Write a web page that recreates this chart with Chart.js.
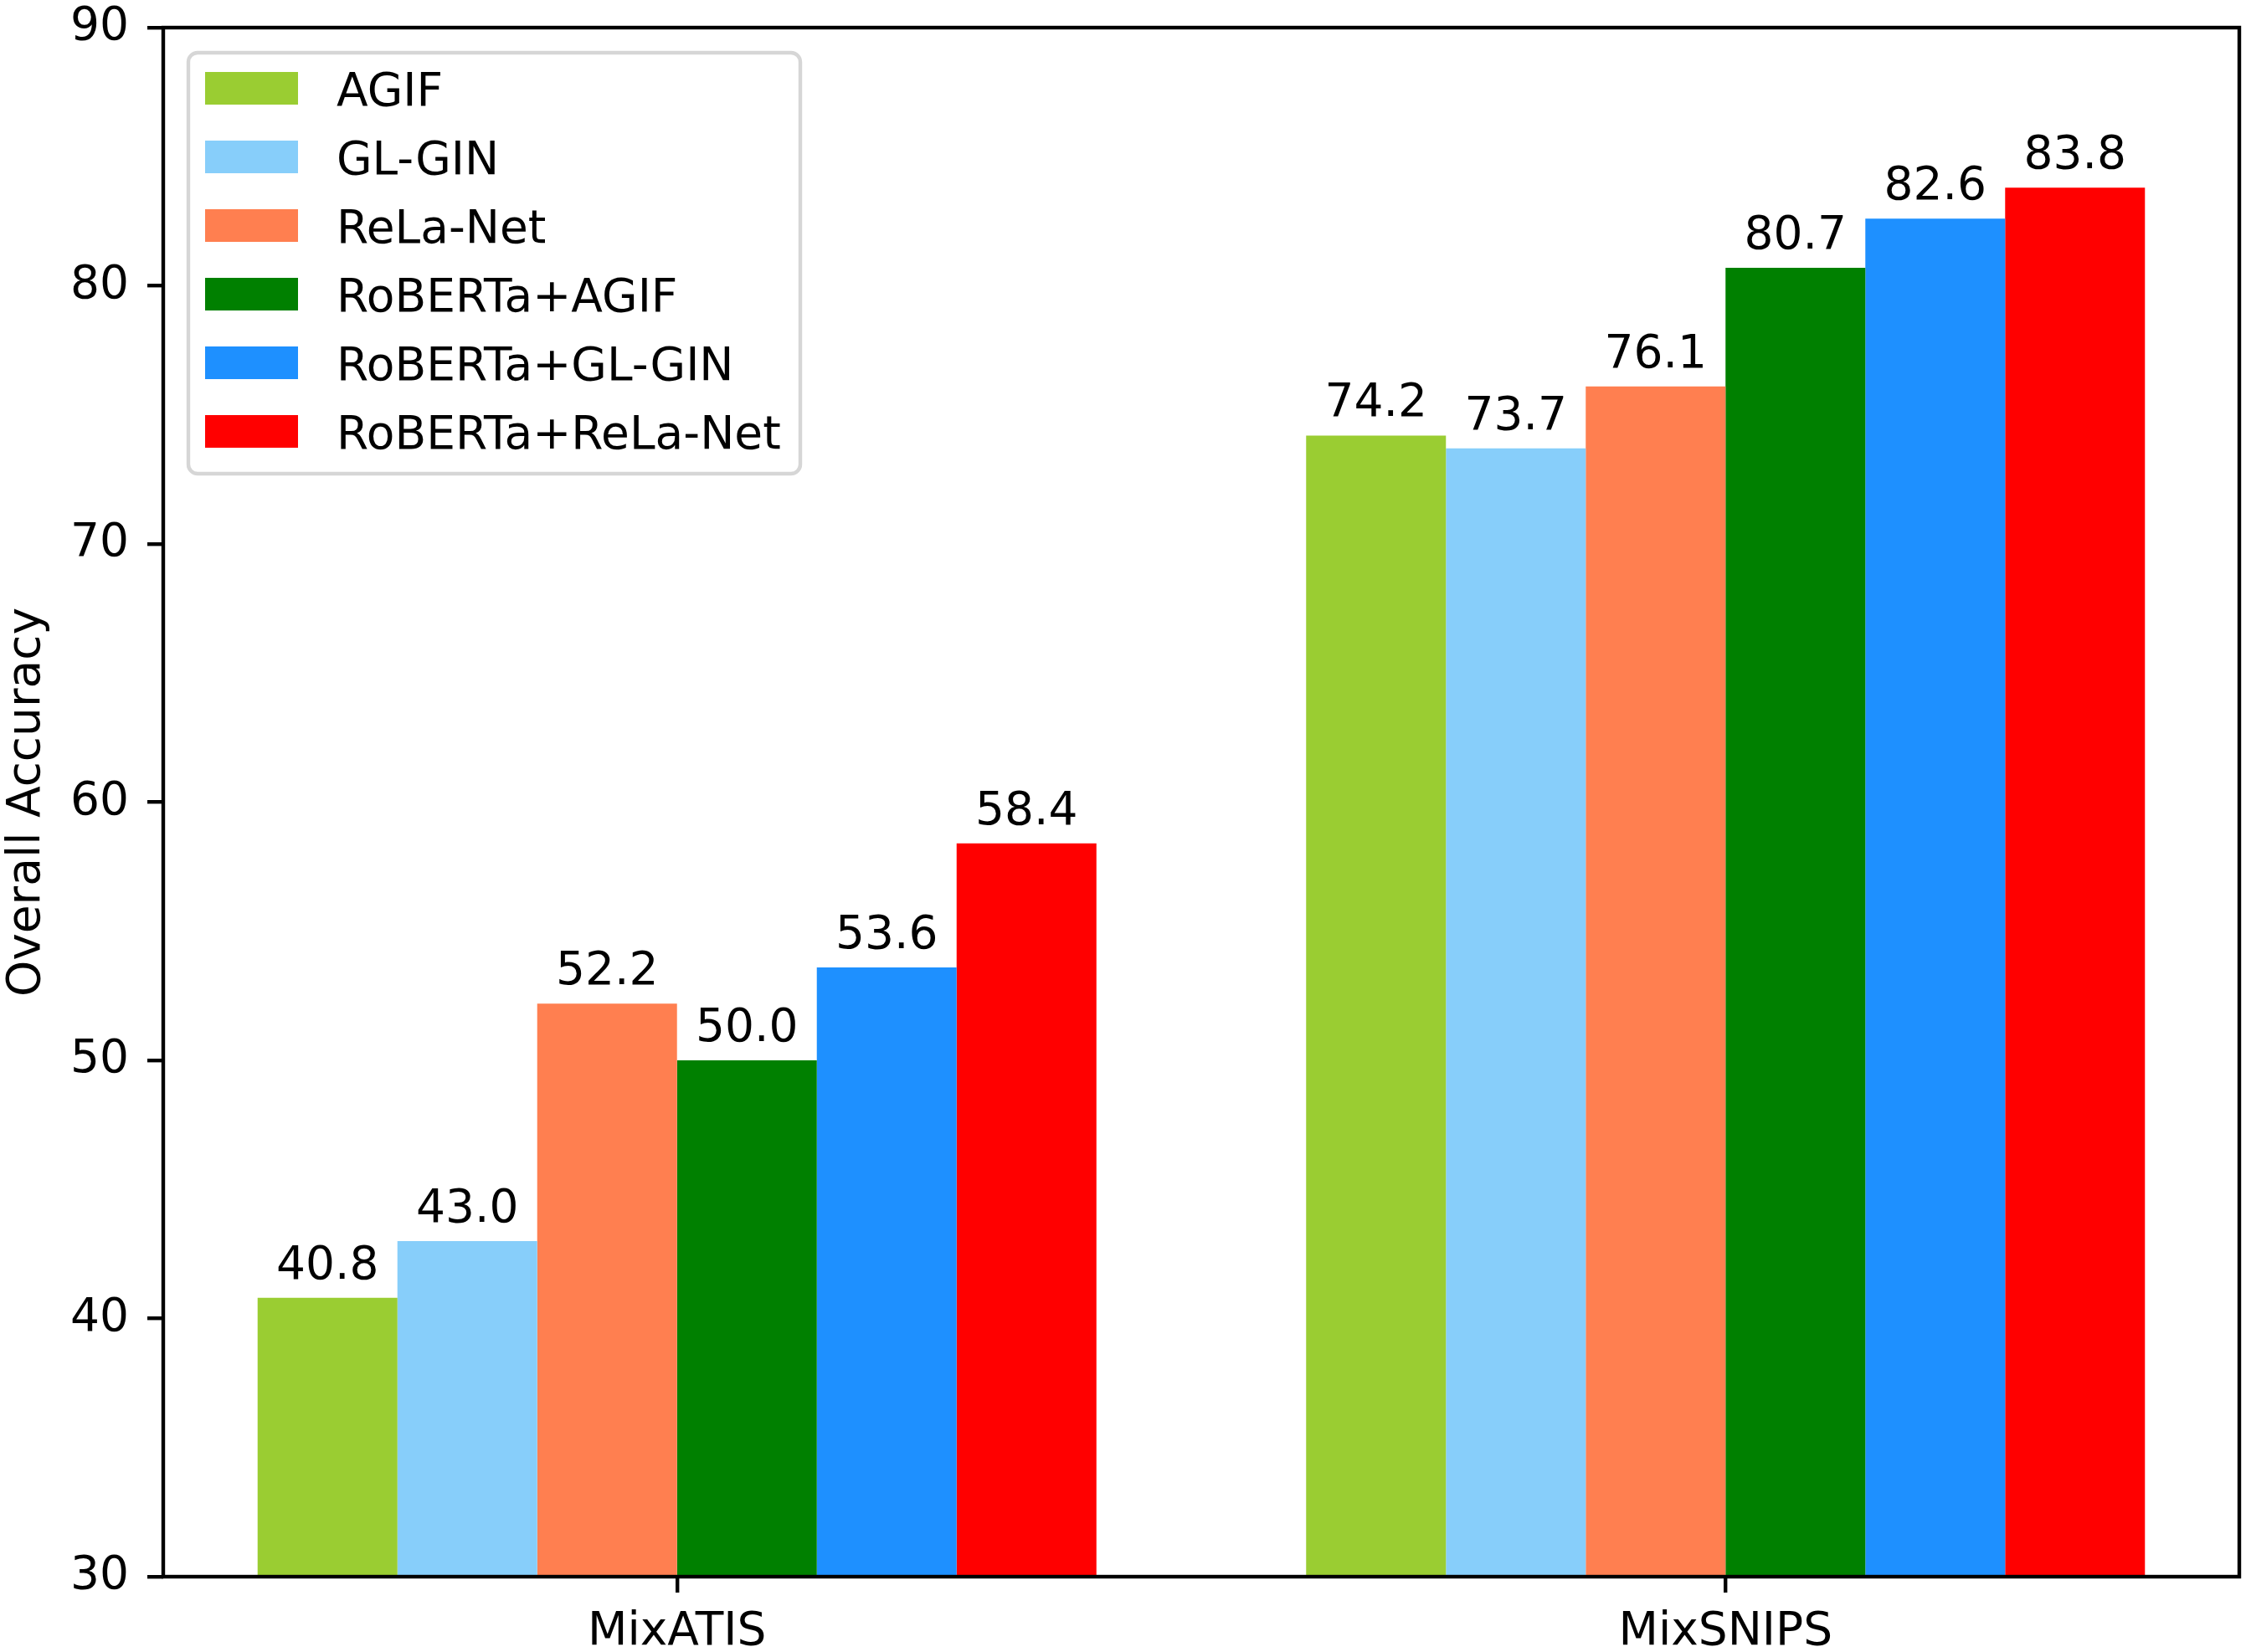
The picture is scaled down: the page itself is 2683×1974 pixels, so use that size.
<!DOCTYPE html>
<html>
<head>
<meta charset="utf-8">
<title>Overall Accuracy</title>
<script src="https://cdn.jsdelivr.net/npm/chart.js@4.4.1/dist/chart.umd.min.js"></script>
<style>
  html, body { margin: 0; padding: 0; background: #fff; }
  canvas { display: block; }
</style>
</head>
<body>
<canvas id="accChart" width="2683" height="1974"></canvas>
<script>
// chart data
const categories = ['MixATIS', 'MixSNIPS'];
const models = ['AGIF', 'GL-GIN', 'ReLa-Net', 'RoBERTa+AGIF', 'RoBERTa+GL-GIN', 'RoBERTa+ReLa-Net'];
const colors = ['#9ACD32', '#87CEFA', '#FF7F50', '#008000', '#1E90FF', '#FF0000'];
const agif = [40.8, 74.2];
const glgin = [43.0, 73.7];
const relaNet = [52.2, 76.1];
const robertaAgif = [50.0, 80.7];
const robertaGlgin = [53.6, 82.6];
const robertaRelaNet = [58.4, 83.8];
const yTicks = [30, 40, 50, 60, 70, 80, 90];

const seriesValues = [agif, glgin, relaNet, robertaAgif, robertaGlgin, robertaRelaNet];

const FONT = 'DejaVu Sans';
const FS = 55;
const LW = 4.4;

Chart.defaults.font.family = FONT;
Chart.defaults.font.size = FS;
Chart.defaults.color = '#000';

// value labels above each bar
const barLabels = {
  id: 'barLabels',
  afterDatasetsDraw(chart) {
    const ctx = chart.ctx;
    ctx.save();
    ctx.font = `${FS}px "${FONT}"`;
    ctx.fillStyle = '#000';
    ctx.textAlign = 'center';
    ctx.textBaseline = 'alphabetic';
    chart.data.datasets.forEach((ds, i) => {
      chart.getDatasetMeta(i).data.forEach((bar, j) => {
        ctx.fillText(ds.data[j].y.toFixed(1), bar.x, bar.y - 23);
      });
    });
    ctx.restore();
  }
};

// box around the plot + legend inside the axes
const frameAndLegend = {
  id: 'frameAndLegend',
  afterDraw(chart) {
    const ctx = chart.ctx;
    const a = chart.chartArea;
    ctx.save();
    ctx.strokeStyle = '#000';
    ctx.lineWidth = LW;
    ctx.lineJoin = 'miter';
    ctx.strokeRect(a.left, a.top, a.right - a.left, a.bottom - a.top);

    // legend frame
    const bx = 225, by = 63, bw = 731, bh = 503, r = 11;
    ctx.beginPath();
    ctx.roundRect(bx, by, bw, bh, r);
    ctx.fillStyle = 'rgba(255,255,255,0.8)';
    ctx.fill();
    ctx.strokeStyle = '#d6d6d6';
    ctx.lineWidth = LW;
    ctx.stroke();

    ctx.font = `${FS}px "${FONT}"`;
    ctx.textAlign = 'left';
    ctx.textBaseline = 'alphabetic';
    chart.data.datasets.forEach((ds, i) => {
      const top = 86 + i * 82;
      ctx.fillStyle = ds.backgroundColor;
      ctx.fillRect(245, top, 111, 39);
      ctx.fillStyle = '#000';
      ctx.fillText(ds.label, 402, top + 40);
    });
    ctx.restore();
  }
};

const datasets = models.map((name, i) => ({
  label: name,
  data: seriesValues[i].map((v, j) => ({ x: j, y: v })),
  backgroundColor: colors[i],
  borderWidth: 0,
  categoryPercentage: 0.8,
  barPercentage: 1.0
}));

new Chart(document.getElementById('accChart'), {
  type: 'bar',
  data: { datasets: datasets },
  options: {
    responsive: false,
    devicePixelRatio: 1,
    animation: false,
    layout: { padding: { left: 0, right: 8, top: 33, bottom: 0 } },
    plugins: {
      legend: { display: false },
      tooltip: { enabled: false }
    },
    scales: {
      x: {
        type: 'linear',
        min: -0.49,
        max: 1.49,
        offset: false,
        afterBuildTicks: (scale) => {
          scale.ticks = categories.map((c, i) => ({ value: i }));
        },
        afterFit: (scale) => {
          scale.height = 90;
          scale.paddingLeft = 0;
          scale.paddingRight = 0;
        },
        ticks: {
          callback: (value, index) => categories[index],
          padding: 15,
          font: { size: FS },
          color: '#000'
        },
        grid: {
          display: true,
          offset: false,
          drawOnChartArea: false,
          drawTicks: true,
          tickLength: 19,
          color: '#000',
          lineWidth: LW
        },
        border: { display: false }
      },
      y: {
        min: 30,
        max: 90,
        afterBuildTicks: (scale) => {
          scale.ticks = yTicks.map(v => ({ value: v }));
        },
        afterFit: (scale) => {
          scale.width = 195;
          scale.paddingTop = 0;
          scale.paddingBottom = 0;
        },
        ticks: {
          padding: 22,
          font: { size: FS },
          color: '#000'
        },
        grid: {
          display: true,
          drawOnChartArea: false,
          drawTicks: true,
          tickLength: 19,
          color: '#000',
          lineWidth: LW
        },
        border: { display: false },
        title: {
          display: true,
          text: 'Overall Accuracy',
          font: { size: FS },
          color: '#000',
          padding: { top: 0, bottom: 0 }
        }
      }
    }
  },
  plugins: [barLabels, frameAndLegend]
});
</script>
</body>
</html>
